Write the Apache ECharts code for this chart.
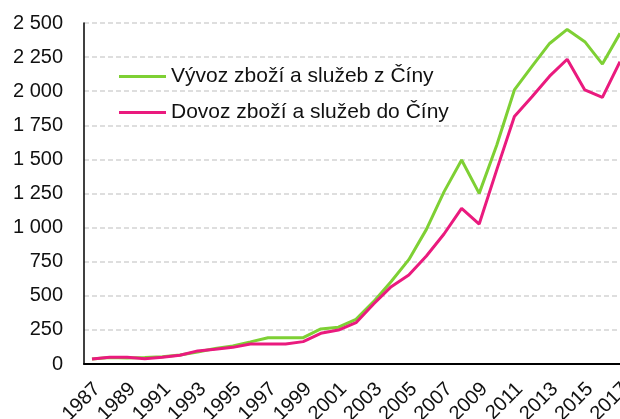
<!DOCTYPE html>
<html>
<head>
<meta charset="utf-8">
<script src="https://cdn.jsdelivr.net/npm/echarts@6/dist/echarts.min.js"></script>
<style>html,body{margin:0;padding:0;background:#fff}#c{width:620px;height:419px}</style>
</head>
<body>
<div id="c"></div>
<script>
const years = [1987,1988,1989,1990,1991,1992,1993,1994,1995,1996,1997,1998,1999,2000,2001,2002,2003,2004,2005,2006,2007,2008,2009,2010,2011,2012,2013,2014,2015,2016,2017];
const exportVals = [36,48,44,47,54,66,88,113,132,162,193,193,193,257,270,328,457,605,765,987,1262,1496,1251,1605,2009,2182,2350,2453,2363,2199,2424];
const importVals = [36,49,50,38,50,64,96,108,122,147,147,147,164,225,249,303,440,567,652,792,953,1141,1026,1425,1815,1960,2110,2234,2009,1955,2216];
const tickYears = [1987,1989,1991,1993,1995,1997,1999,2001,2003,2005,2007,2009,2011,2013,2015,2017];
const seriesNames = ['Vývoz zboží a služeb z Číny','Dovoz zboží a služeb do Číny'];

const fmt = v => String(v).replace(/\B(?=(\d{3})+(?!\d))/g, ' ');
const labelShift = 0.3;
const pxPerYear = 17.6;
const extra = 0.5;
const chart = echarts.init(document.getElementById('c'));
chart.setOption({
  animation: false,
  textStyle: { fontFamily: 'Liberation Sans, Arial, sans-serif' },
  grid: { left: 84, top: 23, right: -extra * pxPerYear, bottom: 55, outerBoundsMode: 'none', containLabel: false },
  legend: {
    orient: 'vertical', left: 114, top: 60, itemGap: 13,
    itemWidth: 47, itemHeight: 3,
    textStyle: { fontSize: 21, lineHeight: 23, color: '#111' },
    data: [{ name: seriesNames[0], icon: 'rect' }, { name: seriesNames[1], icon: 'rect' }]
  },
  xAxis: {
    type: 'value', min: 1987 - 8/pxPerYear, max: 2017 + extra,
    axisLine: { lineStyle: { color: '#000', width: 2 } },
    axisTick: { show: false },
    splitLine: { show: false },
    axisLabel: {
      customValues: tickYears.map(y => y + labelShift), rotate: 45, fontSize: 20, color: '#111', margin: 22,
      formatter: v => String(Math.round(v - labelShift))
    }
  },
  yAxis: {
    type: 'value', min: 0, max: 2500, interval: 250,
    axisLine: { show: true, lineStyle: { color: '#000', width: 1.5 } },
    axisTick: { show: false },
    splitLine: { lineStyle: { color: '#d4d4d4', type: [5, 3], width: 1.5 } },
    axisLabel: { fontSize: 20, color: '#111', margin: 21, formatter: fmt }
  },
  series: [
    { name: seriesNames[0], type: 'line', symbol: 'none',
      lineStyle: { color: '#7ed034', width: 3 }, itemStyle: { color: '#7ed034' },
      data: years.map((y, i) => [y, exportVals[i]]) },
    { name: seriesNames[1], type: 'line', symbol: 'none',
      lineStyle: { color: '#ea1a7e', width: 3 }, itemStyle: { color: '#ea1a7e' },
      data: years.map((y, i) => [y, importVals[i]]) }
  ]
});
</script>
</body>
</html>
